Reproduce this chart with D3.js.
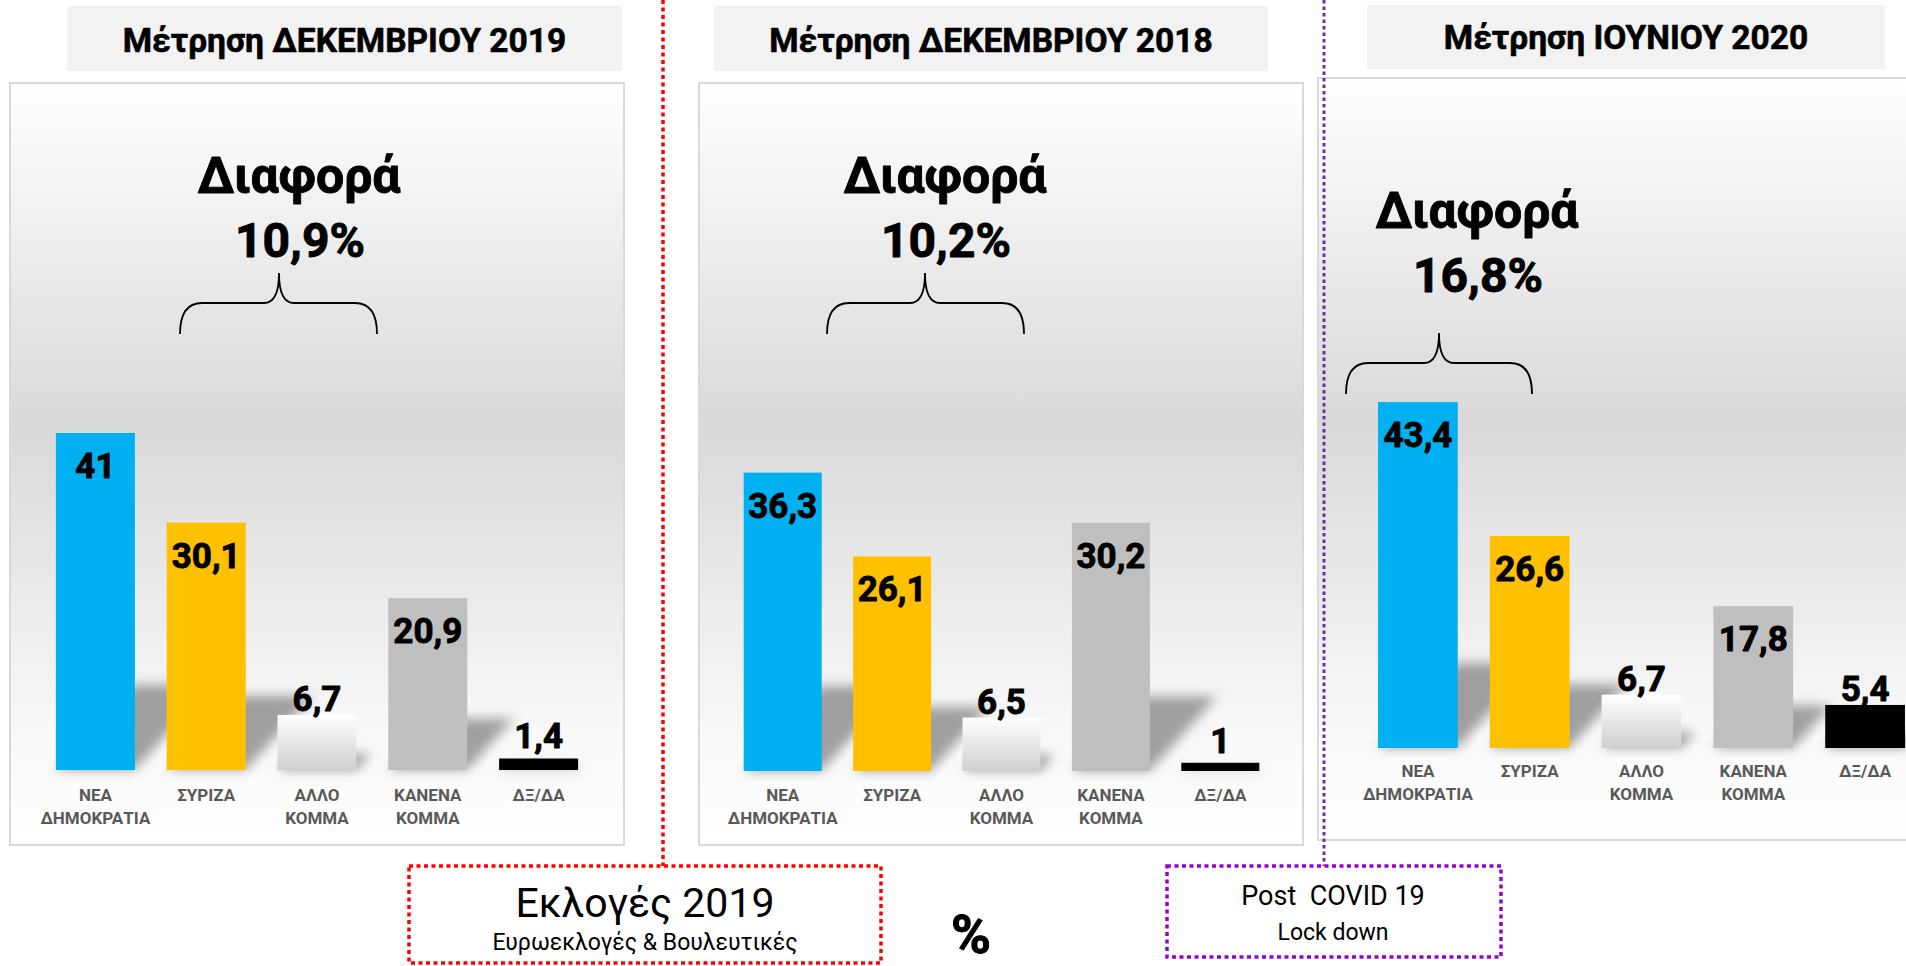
<!DOCTYPE html>
<html>
<head>
<meta charset="utf-8">
<script src="https://cdn.jsdelivr.net/npm/d3@7"></script>
<style>
  body { margin: 0; background: #ffffff; }
  svg { display: block; font-family: Roboto, 'Noto Sans', sans-serif; }
</style>
</head>
<body>
<svg id="chart" width="1906" height="966"></svg>
<script>
// categories (label lines) and values of the three surveys
var categories = ['ΝΕΑ ΔΗΜΟΚΡΑΤΙΑ', 'ΣΥΡΙΖΑ', 'ΑΛΛΟ ΚΟΜΜΑ', 'ΚΑΝΕΝΑ ΚΟΜΜΑ', 'ΔΞ/ΔΑ'];
var categoryLines = [['ΝΕΑ', 'ΔΗΜΟΚΡΑΤΙΑ'], ['ΣΥΡΙΖΑ'], ['ΑΛΛΟ', 'ΚΟΜΜΑ'], ['ΚΑΝΕΝΑ', 'ΚΟΜΜΑ'], ['ΔΞ/ΔΑ']];
var valuesDec2019 = [41, 30.1, 6.7, 20.9, 1.4];
var valuesDec2018 = [36.3, 26.1, 6.5, 30.2, 1];
var valuesJun2020 = [43.4, 26.6, 6.7, 17.8, 5.4];
var panelTitles = ['Μέτρηση ΔΕΚΕΜΒΡΙΟΥ 2019', 'Μέτρηση ΔΕΚΕΜΒΡΙΟΥ 2018', 'Μέτρηση ΙΟΥΝΙΟΥ 2020'];
var diffLabels = ['10,9%', '10,2%', '16,8%'];
var barColors = ['#00b0f0', '#ffc000', 'url(#alloGrad)', '#bfbfbf', '#000000'];

// layout of each panel (pixels)
var panels = [
  { values: valuesDec2019, title: panelTitles[0], diff: diffLabels[0],
    box: [10, 83, 624, 845], titleBox: [67, 6, 622, 71], titleY: 52,
    xRange: [40, 594], base: 770, k: 8.22, catY: 801,
    diffX: 299, diffY: 193, brace: { x0: 180, x1: 377, tip: 279, top: 273 } },
  { values: valuesDec2018, title: panelTitles[1], diff: diffLabels[1],
    box: [699, 83, 1303, 845], titleBox: [714, 6, 1268, 71], titleY: 52,
    xRange: [728, 1275], base: 771, k: 8.22, catY: 801,
    diffX: 945, diffY: 193, brace: { x0: 827, x1: 1024, tip: 925, top: 273 } },
  { values: valuesJun2020, title: panelTitles[2], diff: diffLabels[2],
    box: [1318, 78, 1930, 840], titleBox: [1367, 5, 1885, 69], titleY: 49,
    xRange: [1362, 1921], base: 748, k: 7.97, catY: 777,
    diffX: 1477, diffY: 228, brace: { x0: 1346, x1: 1532, tip: 1439, top: 333 } }
];

var svg = d3.select('#chart');
var defs = svg.append('defs');

//panel background: white -> gray -> white
var bg = defs.append('linearGradient').attr('id', 'panelGrad')
  .attr('x1', 0).attr('y1', 0).attr('x2', 0).attr('y2', 1);
bg.append('stop').attr('offset', '0%').attr('stop-color', '#ffffff');
bg.append('stop').attr('offset', '45%').attr('stop-color', '#d9d9d9');
bg.append('stop').attr('offset', '86%').attr('stop-color', '#f9f9f9');
bg.append('stop').attr('offset', '100%').attr('stop-color', '#ffffff');

//gradient of the "other party" bar
var ag = defs.append('linearGradient').attr('id', 'alloGrad')
  .attr('x1', 0).attr('y1', 0).attr('x2', 0).attr('y2', 1);
ag.append('stop').attr('offset', '0%').attr('stop-color', '#ffffff');
ag.append('stop').attr('offset', '100%').attr('stop-color', '#cfcfcf');

defs.append('filter').attr('id', 'blur').attr('x', '-50%').attr('y', '-50%')
  .attr('width', '200%').attr('height', '200%')
  .append('feGaussianBlur').attr('stdDeviation', 6);

function fmt(v) { return String(v).replace('.', ','); }

//heavier bold: thin outline in the text colour
function heavy(sel, w) {
  return sel.attr('stroke', '#000').attr('stroke-width', w).attr('stroke-linejoin', 'round');
}

function bracePath(b) {
  var mid = b.top + 30, end = b.top + 61;
  return 'M' + b.x0 + ',' + end +
    'Q' + b.x0 + ',' + mid + ' ' + (b.x0 + 22) + ',' + mid +
    'L' + (b.tip - 15) + ',' + mid +
    'Q' + b.tip + ',' + mid + ' ' + b.tip + ',' + b.top +
    'Q' + b.tip + ',' + mid + ' ' + (b.tip + 15) + ',' + mid +
    'L' + (b.x1 - 22) + ',' + mid +
    'Q' + b.x1 + ',' + mid + ' ' + b.x1 + ',' + end;
}

panels.forEach(function (p) {
  var g = svg.append('g');

  //title box
  g.append('rect')
    .attr('x', p.titleBox[0]).attr('y', p.titleBox[1])
    .attr('width', p.titleBox[2] - p.titleBox[0]).attr('height', p.titleBox[3] - p.titleBox[1])
    .attr('fill', '#f2f2f2');
  heavy(g.append('text')
    .attr('x', (p.titleBox[0] + p.titleBox[2]) / 2).attr('y', p.titleY)
    .attr('text-anchor', 'middle').attr('font-size', 33.5).attr('font-weight', 'bold')
    .attr('fill', '#000').text(p.title), 0.6);

  //chart box
  g.append('rect')
    .attr('x', p.box[0]).attr('y', p.box[1])
    .attr('width', p.box[2] - p.box[0]).attr('height', p.box[3] - p.box[1])
    .attr('fill', 'url(#panelGrad)').attr('stroke', '#d9d9d9').attr('stroke-width', 2);

  var x = d3.scaleBand().domain(categories).range(p.xRange)
    .paddingInner(0.287).paddingOuter(0.1435);
  var y = d3.scaleLinear().domain([0, 50]).range([p.base, p.base - 50 * p.k]);

  var data = categories.map(function (c, i) { return { cat: c, v: p.values[i], i: i }; });

  //soft perspective shadows behind the bars
  g.append('g').attr('filter', 'url(#blur)')
    .selectAll('path').data(data).enter().append('path')
    .attr('fill', '#7a7a7a').attr('opacity', 0.7)
    .attr('d', function (d) {
      var x0 = x(d.cat), x1 = x0 + x.bandwidth();
      var hs = Math.min((y(0) - y(d.v)) * 0.3, 85), s = hs * 0.9;
      return 'M' + x0 + ',' + y(0) + 'L' + x1 + ',' + y(0) +
        'L' + (x1 + s) + ',' + (y(0) - hs) + 'L' + (x0 + s) + ',' + (y(0) - hs) + 'Z';
    });

  g.selectAll('rect.bar').data(data).enter().append('rect')
    .attr('class', 'bar')
    .attr('x', function (d) { return x(d.cat); })
    .attr('y', function (d) { return y(d.v); })
    .attr('width', x.bandwidth())
    .attr('height', function (d) { return y(0) - y(d.v); })
    .attr('fill', function (d) { return barColors[d.i]; });

  //value labels: inside end for tall bars, outside end for short ones
  heavy(g.selectAll('text.val').data(data).enter().append('text')
    .attr('class', 'val')
    .attr('x', function (d) { return x(d.cat) + x.bandwidth() / 2; })
    .attr('y', function (d) {
      var h = y(0) - y(d.v);
      if (d.v >= 10) return y(d.v) + 45;
      return y(d.v) - (h < 20 ? 10 : 4);
    })
    .attr('text-anchor', 'middle').attr('font-size', 35).attr('font-weight', 'bold')
    .attr('fill', '#000').text(function (d) { return fmt(d.v); }), 0.9);

  //category labels
  var cat = g.selectAll('text.cat').data(data).enter().append('text')
    .attr('class', 'cat')
    .attr('text-anchor', 'middle').attr('font-size', 17).attr('font-weight', 'bold')
    .attr('fill', '#595959');
  cat.selectAll('tspan').data(function (d) {
    return categoryLines[d.i].map(function (t) { return { t: t, cx: x(d.cat) + x.bandwidth() / 2 }; });
  }).enter().append('tspan')
    .attr('x', function (d) { return d.cx; })
    .attr('y', function (d, j) { return p.catY + j * 23; })
    .text(function (d) { return d.t; });

  //difference annotation
  heavy(g.append('text').attr('x', p.diffX).attr('y', p.diffY)
    .attr('text-anchor', 'middle').attr('font-size', 50).attr('font-weight', 'bold')
    .text('Διαφορά'), 0.9);
  heavy(g.append('text').attr('x', p.diffX + 1).attr('y', p.diffY + 64)
    .attr('text-anchor', 'middle').attr('font-size', 48).attr('font-weight', 'bold')
    .text(p.diff), 0.9);
  g.append('path').attr('d', bracePath(p.brace))
    .attr('fill', 'none').attr('stroke', '#000').attr('stroke-width', 1.8);
});

//dotted separators and notes
svg.append('line').attr('x1', 663).attr('y1', 0).attr('x2', 663).attr('y2', 866)
  .attr('stroke', '#ff0000').attr('stroke-width', 3.5).attr('stroke-dasharray', '4 3.5');
svg.append('rect').attr('x', 409).attr('y', 866).attr('width', 472).attr('height', 97)
  .attr('fill', 'none').attr('stroke', '#ff0000').attr('stroke-width', 3.5)
  .attr('stroke-dasharray', '4 3.5');
svg.append('text').attr('x', 645).attr('y', 917).attr('text-anchor', 'middle')
  .attr('font-size', 41).text('Εκλογές 2019');
svg.append('text').attr('x', 645).attr('y', 950).attr('text-anchor', 'middle')
  .attr('font-size', 23).text('Ευρωεκλογές & Βουλευτικές');

heavy(svg.append('text').attr('x', 971).attr('y', 953).attr('text-anchor', 'middle')
  .attr('font-size', 54).attr('font-weight', 'bold').text('%'), 1);

svg.append('line').attr('x1', 1324).attr('y1', 0).attr('x2', 1324).attr('y2', 866)
  .attr('stroke', '#7030a0').attr('stroke-width', 3).attr('stroke-dasharray', '3.5 3');
svg.append('rect').attr('x', 1167).attr('y', 866).attr('width', 334).attr('height', 91)
  .attr('fill', 'none').attr('stroke', '#9900cc').attr('stroke-width', 3.5)
  .attr('stroke-dasharray', '4 3.5');
svg.append('text').attr('x', 1333).attr('y', 905).attr('text-anchor', 'middle')
  .attr('font-size', 27).attr('xml:space', 'preserve').text('Post  COVID 19');
svg.append('text').attr('x', 1333).attr('y', 940).attr('text-anchor', 'middle')
  .attr('font-size', 23).text('Lock down');
</script>
</body>
</html>
